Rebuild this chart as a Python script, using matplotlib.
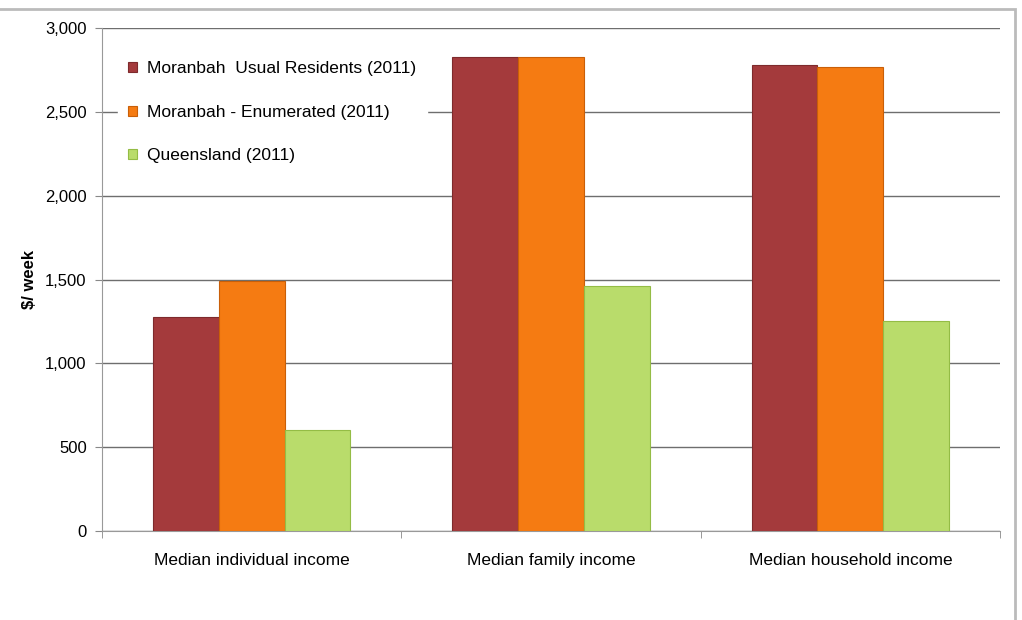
import matplotlib.pyplot as plt
import numpy as np
from matplotlib.patches import Rectangle

plt.rcParams['font.family'] = ['Liberation Sans Narrow', 'Liberation Sans', 'DejaVu Sans']

categories = ['Median individual income', 'Median family income', 'Median household income']
series = ['Moranbah  Usual Residents (2011)', 'Moranbah - Enumerated (2011)', 'Queensland (2011)']
usual = [1276, 2829, 2779]
enumerated = [1492, 2829, 2770]
queensland = [600, 1460, 1250]
colors = ['#A43A3C', '#F57B12', '#B9DC6B']
edges = ['#7E2A2C', '#C95F08', '#94BC45']

fig = plt.figure(figsize=(10.22, 6.2), dpi=100)
ax = fig.add_axes([0.0998, 0.1435, 0.8787, 0.8113])

x = np.arange(len(categories))
w = 0.22
for i, (vals, lab) in enumerate(zip([usual, enumerated, queensland], series)):
    ax.bar(x + (i - 1) * w, vals, w, color=colors[i], edgecolor=edges[i],
           linewidth=0.8, label=lab, zorder=3)

ax.set_xlim(-0.5, 2.5)
ax.set_ylim(0, 3000)
ax.set_yticks(np.arange(0, 3001, 500))
ax.set_yticklabels(['{:,}'.format(v) for v in range(0, 3001, 500)], fontsize=12)
ax.set_xticks(x)
ax.set_xticklabels(categories, fontsize=12.5)
ax.set_xticks([-0.5, 0.5, 1.5, 2.5], minor=True)
ax.tick_params(axis='x', which='major', length=0, pad=16)
ax.tick_params(axis='x', which='minor', length=5, color='#888888')
ax.tick_params(axis='y', length=5, color='#888888', pad=6)
ax.yaxis.grid(True, color='#6e6e6e', linewidth=1.0, zorder=0)
for s in ['top', 'right']:
    ax.spines[s].set_visible(False)
for s in ['left', 'bottom']:
    ax.spines[s].set_color('#999999')
ax.set_ylabel('$/ week', fontsize=12, fontweight='bold', labelpad=6)

leg = ax.legend(loc='upper left', bbox_to_anchor=(0.008, 0.972), frameon=True,
                fontsize=12.5, handlelength=0.5, handleheight=0.5,
                handletextpad=0.6, labelspacing=1.65, borderpad=0.6)
leg.get_frame().set_facecolor('white')
leg.get_frame().set_edgecolor('white')
leg.get_frame().set_alpha(1)

# outer chart frame
fig.patches.append(Rectangle((-0.01, -0.01), 1.003, 0.995, transform=fig.transFigure,
                             fill=False, edgecolor='#bbbbbb', linewidth=2))

plt.savefig('out.png', dpi=100)
